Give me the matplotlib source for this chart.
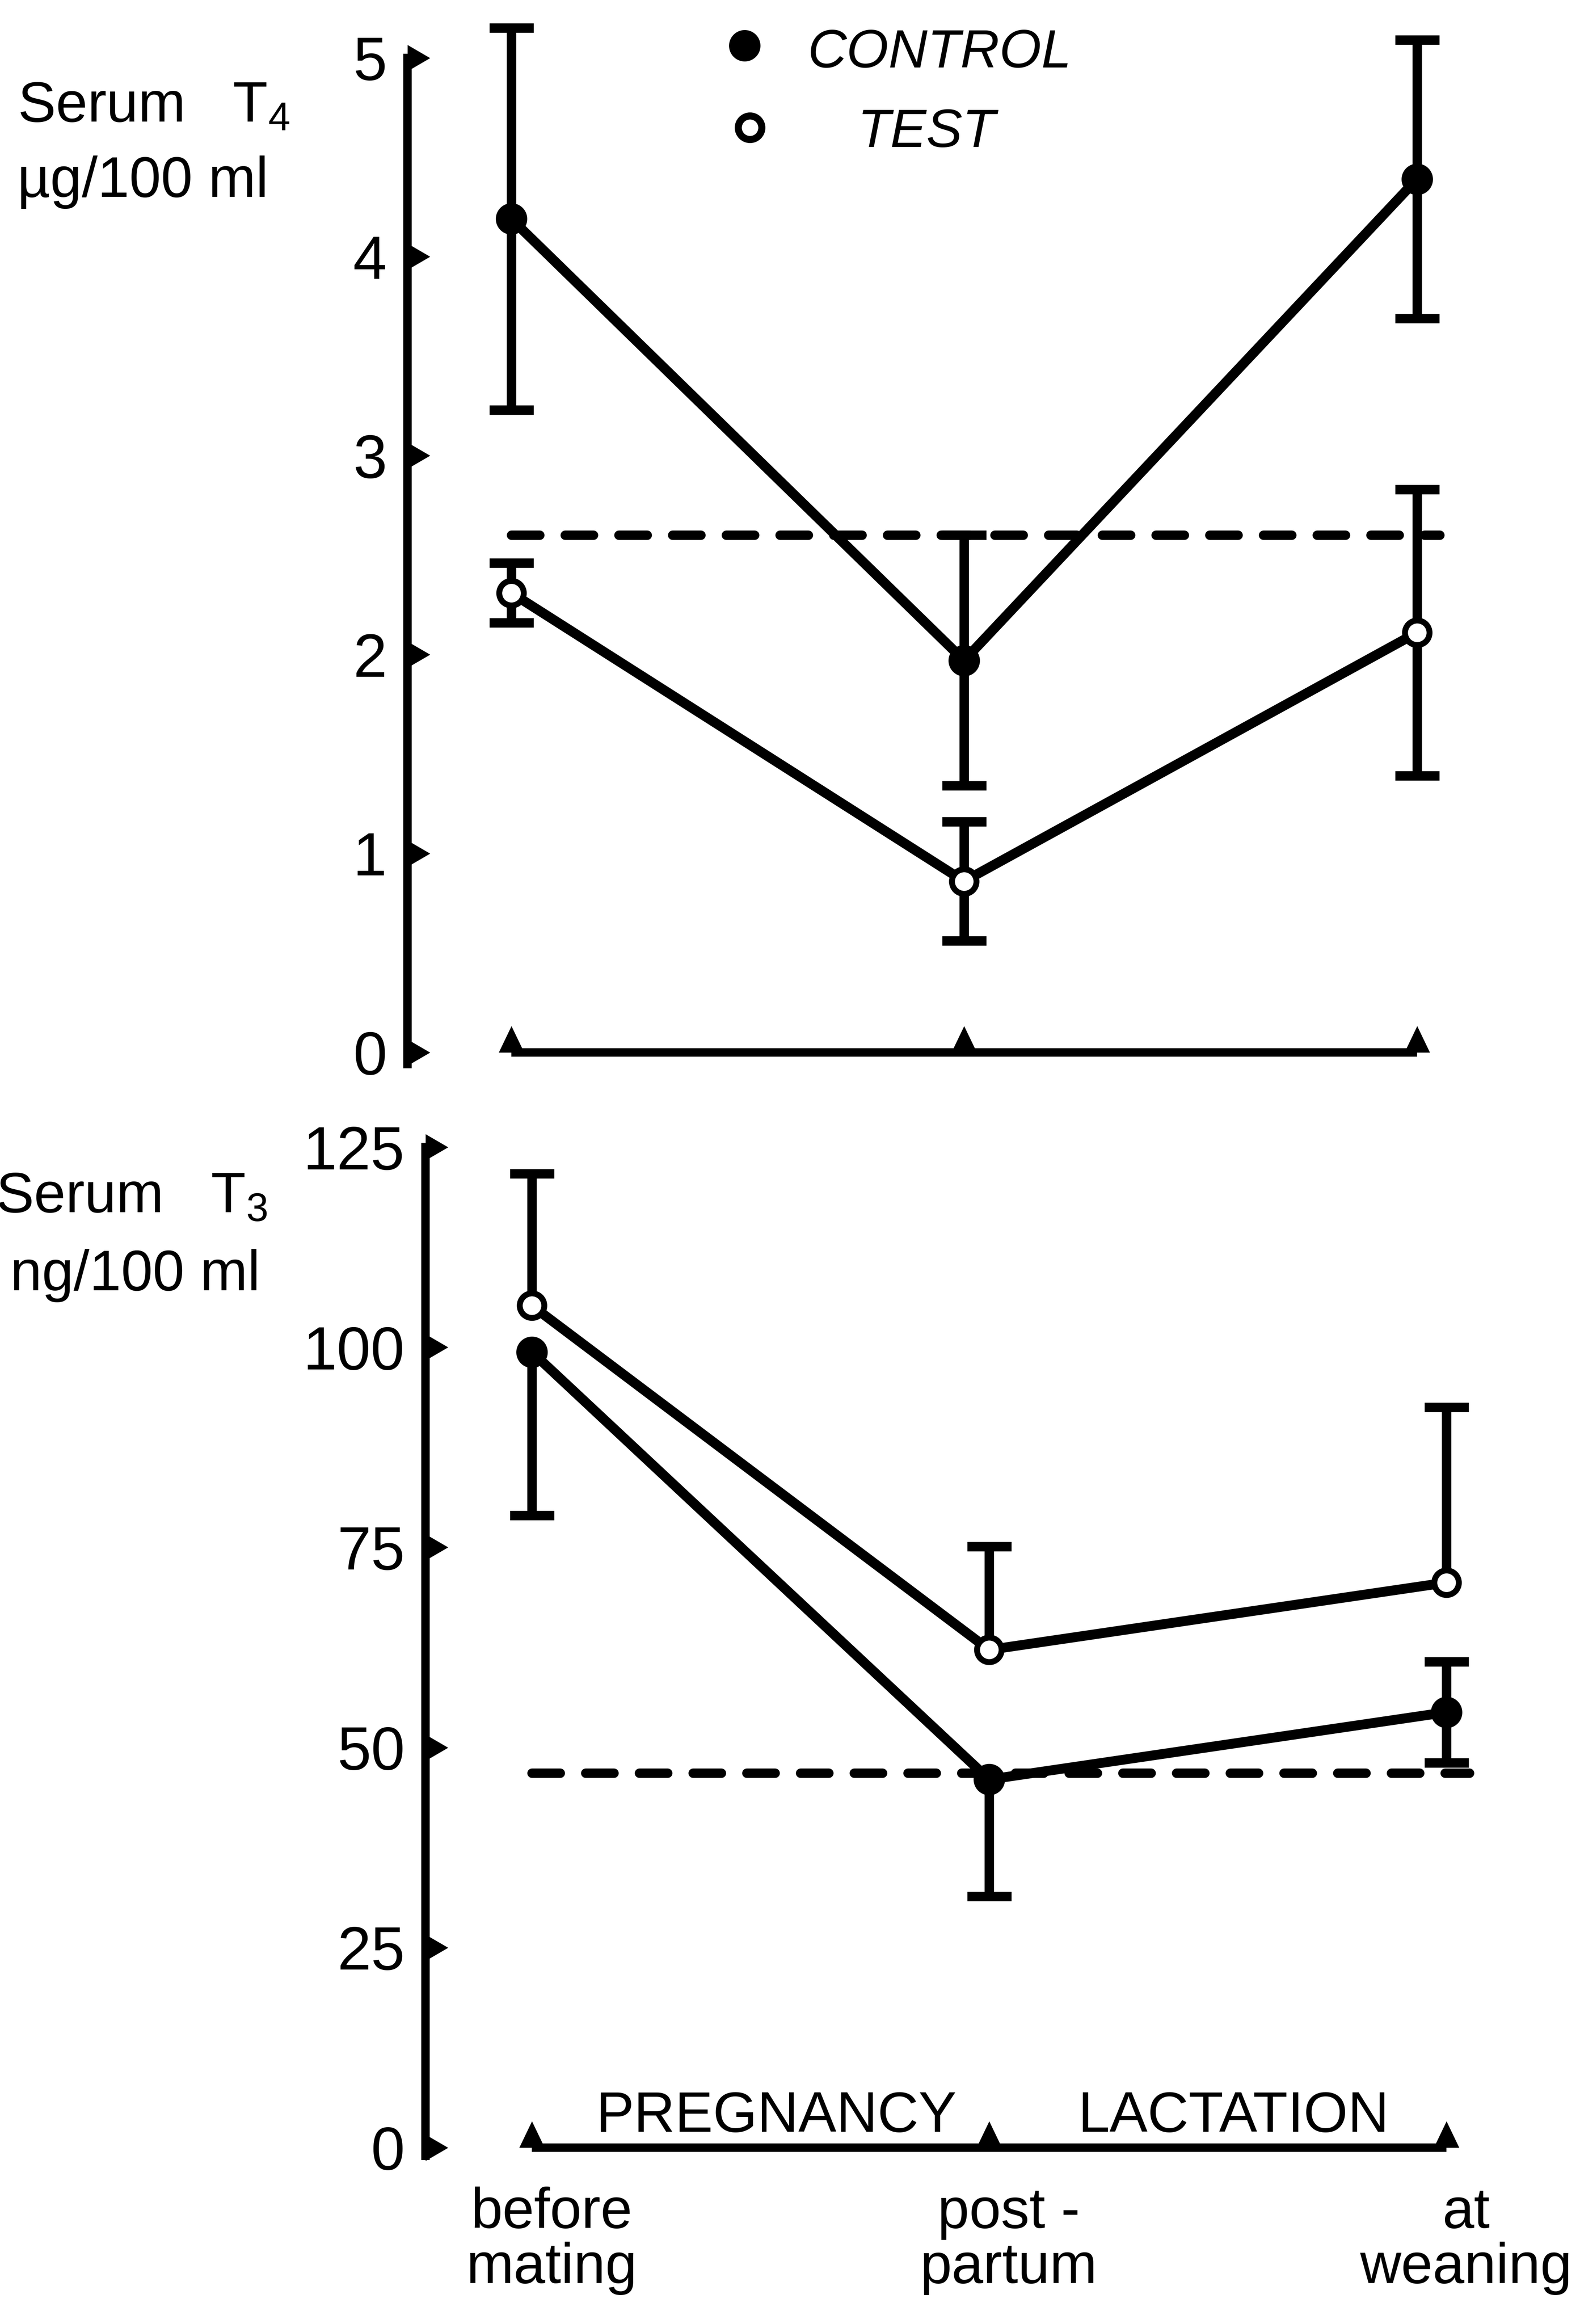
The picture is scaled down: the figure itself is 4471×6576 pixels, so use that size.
import numpy as np
import matplotlib
matplotlib.use("Agg")
import matplotlib.pyplot as plt
from matplotlib.path import Path
from matplotlib.lines import Line2D
from matplotlib import transforms

plt.rcParams["font.family"] = ["Liberation Sans", "DejaVu Sans"]
plt.rcParams["mathtext.fontset"] = "custom"
plt.rcParams["mathtext.rm"] = "Liberation Sans"
plt.rcParams["mathtext.it"] = "Liberation Sans:italic"
plt.rcParams["mathtext.bf"] = "Liberation Sans:bold"

# ---- data -------------------------------------------------------------
stages = ["before\nmating", "post -\npartum", "at\nweaning"]
phases = ["PREGNANCY", "LACTATION"]

# Serum T4 (ug/100 ml), mean and SEM
t4_control = [4.19, 1.97, 4.39]
t4_control_err = [0.96, 0.63, 0.70]
t4_test = [2.31, 0.86, 2.11]
t4_test_err = [0.15, 0.30, 0.72]
t4_normal = 2.60

# Serum T3 (ng/100 ml), mean with one-sided SEM bars
t3_control = [99.4, 46.0, 54.4]
t3_control_err_low = [20.4, 14.6, 6.3]
t3_control_err_high = [0.0, 0.0, 6.3]
t3_test = [105.2, 62.2, 70.6]
t3_test_err_low = [0.0, 0.0, 0.0]
t3_test_err_high = [16.5, 12.9, 21.9]
t3_normal = 46.8

t4_ticks = [0, 1, 2, 3, 4, 5]
t3_ticks = [0, 25, 50, 75, 100, 125]

# ---- styling ----------------------------------------------------------
AXIS_LW = 4.3
LINE_LW = 5.0
BAR_LW = 4.8
FS = 29
TICK_FS = 31
RIGHT_TRI = Path([(0, -0.5), (0.86, 0), (0, 0.5), (0, -0.5)],
                 [Path.MOVETO, Path.LINETO, Path.LINETO, Path.CLOSEPOLY])
UP_TRI = Path([(-0.48, 0), (0.48, 0), (0, 1.0), (-0.48, 0)],
              [Path.MOVETO, Path.LINETO, Path.LINETO, Path.CLOSEPOLY])

x = np.arange(len(stages))

fig = plt.figure(figsize=(4471 / 400, 6576 / 400), dpi=400)
fig.patch.set_facecolor("white")

ax1 = fig.add_axes([0.25797, 0.52152, 0.7248, 0.47757])
ax1.set_xlim(-0.229, 2.3)
ax1.set_ylim(-0.3, 5.28)

ax2 = fig.add_axes([0.26923, 0.06556, 0.7186, 0.45115])
ax2.set_xlim(-0.233, 2.25)
ax2.set_ylim(-3, 128)


def style_axis(ax, ticks, lo_bound):
    ax.set_facecolor("none")
    for s in ["top", "right", "bottom"]:
        ax.spines[s].set_visible(False)
    ax.spines["left"].set_linewidth(AXIS_LW)
    ax.spines["left"].set_bounds(lo_bound, ticks[-1])
    ax.set_yticks(ticks)
    ax.set_yticklabels([str(t) for t in ticks])
    ax.tick_params(axis="y", length=0, pad=10.5, labelsize=TICK_FS)
    xleft = ax.get_xlim()[0]
    ax.plot(np.full(len(ticks), xleft), ticks, ls="none", marker=RIGHT_TRI,
            ms=23, mfc="k", mec="k", mew=0, clip_on=False, zorder=5)
    # time axis with a triangle at each sampling point
    ax.plot(x, np.zeros(len(x)), color="k", lw=AXIS_LW, solid_capstyle="butt",
            marker=UP_TRI, ms=27, mfc="k", mew=0, clip_on=False, zorder=5)


def draw_errorbars(ax, xs, ys, lo, hi):
    for xi, yi, l, h in zip(xs, ys, lo, hi):
        for end in (yi - l, yi + h):
            if end != yi:
                ax.plot([xi, xi], [yi, end], color="k", lw=BAR_LW,
                        solid_capstyle="butt", zorder=2, clip_on=False)
                ax.plot([xi], [end], marker="_", ms=22.5, mew=BAR_LW,
                        color="k", zorder=2, clip_on=False)


def draw_series(ax, ys, filled):
    ax.plot(x, ys, color="k", lw=LINE_LW, zorder=3, clip_on=False)
    if filled:
        ax.plot(x, ys, ls="none", marker="o", ms=15.5, mfc="k", mec="k",
                mew=0.5, zorder=4, clip_on=False)
    else:
        ax.plot(x, ys, ls="none", marker="o", ms=12.5, mfc="white", mec="k",
                mew=3.0, zorder=4, clip_on=False)


def draw_normal(ax, level):
    ax.plot([x[0], x[-1] + 0.05], [level, level], color="k", lw=4.8,
            dashes=(3.0, 2.7), dash_capstyle="round", zorder=2)


# ---- upper panel: T4 ----------------------------------------------------
style_axis(ax1, t4_ticks, -0.06)
ax1.set_xticks([])
draw_normal(ax1, t4_normal)
draw_errorbars(ax1, x, t4_control, t4_control_err, t4_control_err)
draw_errorbars(ax1, x, t4_test, t4_test_err, t4_test_err)
draw_series(ax1, t4_control, True)
draw_series(ax1, t4_test, False)

# ---- lower panel: T3 ----------------------------------------------------
style_axis(ax2, t3_ticks, -1.0)
draw_normal(ax2, t3_normal)
draw_errorbars(ax2, x, t3_control, t3_control_err_low, t3_control_err_high)
draw_errorbars(ax2, x, t3_test, t3_test_err_low, t3_test_err_high)
draw_series(ax2, t3_control, True)
draw_series(ax2, t3_test, False)

ax2.set_xticks(x)
ax2.set_xticklabels(stages, fontsize=FS, linespacing=1.05)
ax2.tick_params(axis="x", length=0, pad=7.5)
shift = transforms.ScaledTranslation(10 / 72, 0, fig.dpi_scale_trans)
for lab in ax2.get_xticklabels():
    lab.set_transform(lab.get_transform() + shift)

for i, name in enumerate(phases):
    ax2.text((x[i] + x[i + 1]) / 2, 2.0, name, fontsize=FS, ha="center",
             va="baseline",
             transform=ax2.transData + transforms.ScaledTranslation(
                 8 / 72, 0, fig.dpi_scale_trans))

# ---- axis titles --------------------------------------------------------
fig.text(0.0112, 0.9477, r"Serum   $\mathrm{T}_{4}$", fontsize=FS,
         ha="left", va="baseline")
fig.text(0.0110, 0.9153, "\u00b5g/100 ml", fontsize=FS, ha="left",
         va="baseline")
fig.text(-0.0027, 0.4784, r"Serum   $\mathrm{T}_{3}$", fontsize=FS,
         ha="left", va="baseline")
fig.text(0.0065, 0.4448, "ng/100 ml", fontsize=FS, ha="left",
         va="baseline")

# ---- legend -------------------------------------------------------------
fig.add_artist(Line2D([0.4713], [0.9804], transform=fig.transFigure,
                      marker="o", ms=15.5, mfc="k", mec="k", mew=0.5))
fig.add_artist(Line2D([0.4746], [0.9451], transform=fig.transFigure,
                      marker="o", ms=12, mfc="white", mec="k", mew=3.6))
fig.text(0.5112, 0.9710, "CONTROL", fontsize=27.5, style="italic",
         ha="left", va="baseline")
fig.text(0.5427, 0.9368, "TEST", fontsize=27.5, style="italic",
         ha="left", va="baseline")

fig.savefig("out.png", dpi=400)
